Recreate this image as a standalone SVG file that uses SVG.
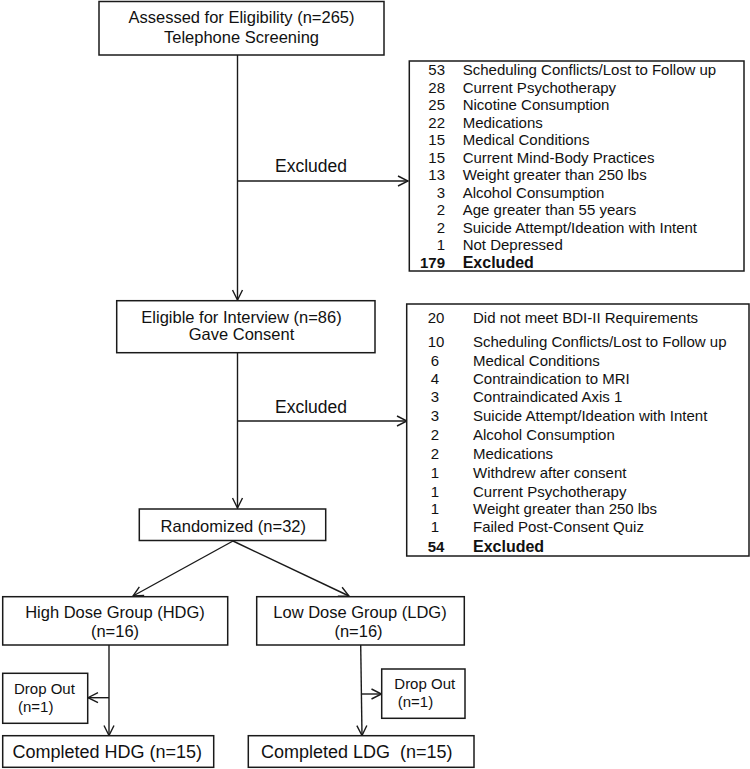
<svg xmlns="http://www.w3.org/2000/svg" width="750" height="769" viewBox="0 0 750 769">
<style>
.box{fill:#fff;stroke:#1a1a1a;stroke-width:1.5}
.t{font-family:"Liberation Sans",Arial,sans-serif;fill:#111}
.m{font-size:16.5px;text-anchor:middle}
.c{font-size:18px;text-anchor:middle}
.l{font-size:15px}
.b{font-weight:bold;font-size:16px}
.ex{font-size:17.5px}
.ln{fill:none;stroke:#1a1a1a;stroke-width:1.4}
</style>
<defs>
<marker id="arr" viewBox="0 0 12 12" refX="11" refY="6" markerWidth="12" markerHeight="12" markerUnits="userSpaceOnUse" orient="auto">
<path d="M1,1 L11,6 L1,11" fill="none" stroke="#1a1a1a" stroke-width="1.4"/>
</marker>
</defs>

<g id="connectors">
<line class="ln" x1="237.5" y1="55" x2="237.5" y2="300" marker-end="url(#arr)"/>
<line class="ln" x1="237.5" y1="181" x2="408" y2="181" marker-end="url(#arr)"/>
<text class="t ex" x="275" y="172">Excluded</text>
<line class="ln" x1="237.5" y1="352.7" x2="237.5" y2="508" marker-end="url(#arr)"/>
<line class="ln" x1="237.5" y1="421" x2="407" y2="421" marker-end="url(#arr)"/>
<text class="t ex" x="275" y="412.7">Excluded</text>
<line class="ln" x1="233" y1="541" x2="133" y2="596" marker-end="url(#arr)"/>
<line class="ln" x1="233" y1="541" x2="349" y2="596" marker-end="url(#arr)"/>
<line class="ln" x1="109" y1="645" x2="109" y2="735.5" marker-end="url(#arr)"/>
<line class="ln" x1="109" y1="697.7" x2="88" y2="697.7" marker-end="url(#arr)"/>
<line class="ln" x1="360.7" y1="645" x2="362" y2="735.5" marker-end="url(#arr)"/>
<line class="ln" x1="361.3" y1="694" x2="381.5" y2="694" marker-end="url(#arr)"/>
</g>

<g id="assessed">
<rect class="box" x="99" y="1.5" width="285" height="53.5"/>
<text class="t m" x="241.5" y="23.3">Assessed for Eligibility (n=265)</text>
<text class="t m" x="241.5" y="42.7">Telephone Screening</text>
</g>

<g id="excluded1">
<rect class="box" x="409.3" y="61" width="334.7" height="210"/>
<g class="t l" text-anchor="end">
<text x="445" y="75">53</text>
<text x="445" y="92.5">28</text>
<text x="445" y="110">25</text>
<text x="445" y="127.5">22</text>
<text x="445" y="145">15</text>
<text x="445" y="162.5">15</text>
<text x="445" y="180">13</text>
<text x="445" y="197.5">3</text>
<text x="445" y="215">2</text>
<text x="445" y="232.5">2</text>
<text x="445" y="250">1</text>
<text x="445" y="267.7" font-weight="bold">179</text>
</g>
<g class="t l">
<text x="462.7" y="75">Scheduling Conflicts/Lost to Follow up</text>
<text x="462.7" y="92.5">Current Psychotherapy</text>
<text x="462.7" y="110">Nicotine Consumption</text>
<text x="462.7" y="127.5">Medications</text>
<text x="462.7" y="145">Medical Conditions</text>
<text x="462.7" y="162.5">Current Mind-Body Practices</text>
<text x="462.7" y="180">Weight greater than 250 lbs</text>
<text x="462.7" y="197.5">Alcohol Consumption</text>
<text x="462.7" y="215">Age greater than 55 years</text>
<text x="462.7" y="232.5">Suicide Attempt/Ideation with Intent</text>
<text x="462.7" y="250">Not Depressed</text>
<text class="b" x="462.7" y="267.7">Excluded</text>
</g>
</g>

<g id="eligible">
<rect class="box" x="116.7" y="300.7" width="258.3" height="52"/>
<text class="t m" x="241.5" y="323.3">Eligible for Interview (n=86)</text>
<text class="t m" x="241.5" y="340">Gave Consent</text>
</g>

<g id="excluded2">
<rect class="box" x="406.7" y="304" width="342.3" height="252"/>
<g class="t l" text-anchor="middle">
<text x="436" y="323.3">20</text>
<text x="436" y="346.7">10</text>
<text x="435" y="365.7">6</text>
<text x="435" y="383.7">4</text>
<text x="435" y="401.7">3</text>
<text x="435" y="420.7">3</text>
<text x="435" y="440">2</text>
<text x="435" y="459.3">2</text>
<text x="435" y="478.3">1</text>
<text x="435" y="496.7">1</text>
<text x="435" y="514.3">1</text>
<text x="435" y="532.3">1</text>
<text x="436" y="551.7" font-weight="bold">54</text>
</g>
<g class="t l">
<text x="473" y="323.3">Did not meet BDI-II Requirements</text>
<text x="473" y="346.7">Scheduling Conflicts/Lost to Follow up</text>
<text x="473" y="365.7">Medical Conditions</text>
<text x="473" y="383.7">Contraindication to MRI</text>
<text x="473" y="401.7">Contraindicated Axis 1</text>
<text x="473" y="420.7">Suicide Attempt/Ideation with Intent</text>
<text x="473" y="440">Alcohol Consumption</text>
<text x="473" y="459.3">Medications</text>
<text x="473" y="478.3">Withdrew after consent</text>
<text x="473" y="496.7">Current Psychotherapy</text>
<text x="473" y="514.3">Weight greater than 250 lbs</text>
<text x="473" y="532.3">Failed Post-Consent Quiz</text>
<text class="b" x="473" y="551.7">Excluded</text>
</g>
</g>

<g id="randomized">
<rect class="box" x="139.3" y="509" width="186.4" height="31.5"/>
<text class="t m" x="233.3" y="531.7">Randomized (n=32)</text>
</g>

<g id="hdg">
<rect class="box" x="2.7" y="596.7" width="225" height="48.3"/>
<text class="t m" x="115" y="618">High Dose Group (HDG)</text>
<text class="t m" x="115" y="636.7">(n=16)</text>
</g>

<g id="ldg">
<rect class="box" x="256.7" y="596.7" width="207.6" height="48.3"/>
<text class="t m" x="360" y="618">Low Dose Group (LDG)</text>
<text class="t m" x="358.5" y="636.7">(n=16)</text>
</g>

<g id="dropout-hdg">
<rect class="box" x="2.7" y="673.3" width="85" height="50"/>
<text class="t l" x="14" y="694">Drop Out</text>
<text class="t l" x="18" y="711.7">(n=1)</text>
</g>

<g id="dropout-ldg">
<rect class="box" x="381.7" y="669" width="83.3" height="49.3"/>
<text class="t l" x="394.3" y="689.3">Drop Out</text>
<text class="t l" x="397.7" y="707.3">(n=1)</text>
</g>

<g id="completed-hdg">
<rect class="box" x="2.7" y="735.7" width="211" height="31.6"/>
<text class="t c" x="107.2" y="758.3">Completed HDG (n=15)</text>
</g>

<g id="completed-ldg">
<rect class="box" x="248.3" y="735.7" width="225.7" height="31.6"/>
<text class="t c" x="356.7" y="758.3" xml:space="preserve">Completed LDG  (n=15)</text>
</g>
</svg>
